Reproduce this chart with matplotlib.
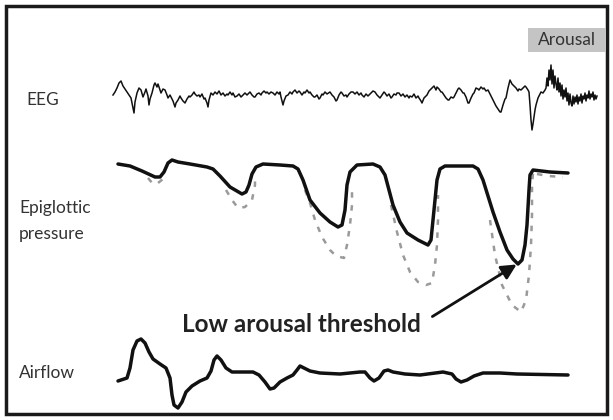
import numpy as np
import matplotlib.pyplot as plt
from matplotlib.patches import Rectangle

# traces, in pixel coordinates (x right, y down)
eeg_pts = [
    (113, 95), (115, 92), (117, 88), (119, 83), (121, 81), (123, 86), (125, 89), (127, 92),
    (129, 95), (131, 98), (133, 108), (134, 113), (135, 102), (137, 93), (139, 88), (141, 90),
    (143, 97), (145, 92), (146, 89), (148, 96), (149, 105), (150, 99), (152, 93), (154, 85),
    (155, 83), (157, 87), (158, 84), (160, 90), (161, 93), (163, 89), (165, 90), (167, 95),
    (168, 98), (170, 95), (171, 97), (173, 101), (175, 107), (176, 103), (178, 100), (180, 96),
    (181, 98), (183, 101), (185, 103), (187, 99), (189, 96), (190, 97), (192, 95), (194, 92),
    (195, 94), (197, 96), (199, 95), (200, 97), (202, 94), (204, 99), (205, 98), (207, 103),
    (208, 107), (209, 100), (211, 93), (213, 95), (215, 92), (217, 94), (219, 91), (221, 95),
    (223, 93), (225, 96), (227, 94), (228, 95), (230, 92), (232, 95), (233, 93), (235, 97),
    (237, 96), (239, 94), (241, 97), (243, 95), (245, 93), (247, 95), (250, 92), (252, 95),
    (254, 97), (255, 97), (257, 94), (259, 93), (261, 95), (262, 93), (264, 91), (266, 93),
    (267, 92), (269, 94), (271, 92), (273, 93), (275, 95), (277, 92), (279, 94), (280, 92),
    (281, 97), (283, 105), (284, 101), (286, 96), (288, 95), (290, 92), (292, 94), (293, 92),
    (295, 90), (297, 93), (299, 91), (300, 92), (302, 95), (304, 92), (305, 93), (307, 90),
    (309, 93), (310, 92), (312, 95), (314, 97), (315, 97), (317, 95), (319, 99), (320, 98),
    (322, 94), (323, 95), (325, 92), (327, 94), (330, 92), (332, 95), (334, 97), (336, 101),
    (337, 100), (339, 95), (341, 92), (342, 93), (344, 96), (346, 95), (347, 97), (349, 94),
    (351, 92), (353, 92), (355, 94), (357, 92), (359, 95), (361, 93), (362, 95), (364, 97),
    (366, 94), (368, 96), (369, 95), (371, 93), (373, 91), (375, 92), (377, 95), (379, 97),
    (380, 98), (382, 95), (384, 92), (385, 93), (387, 96), (389, 94), (391, 98), (392, 97),
    (394, 94), (396, 95), (397, 93), (399, 93), (401, 96), (403, 94), (405, 97), (407, 95),
    (409, 98), (410, 96), (412, 97), (414, 94), (416, 98), (418, 96), (419, 98), (421, 101),
    (422, 103), (424, 98), (426, 96), (427, 95), (429, 91), (431, 89), (432, 88), (434, 86),
    (436, 90), (437, 87), (439, 89), (441, 92), (442, 92), (444, 95), (446, 98), (448, 100),
    (449, 100), (451, 97), (453, 98), (454, 97), (456, 93), (458, 89), (459, 88), (461, 90),
    (463, 93), (464, 93), (466, 97), (468, 103), (469, 103), (471, 98), (473, 94), (474, 93),
    (476, 88), (478, 89), (479, 90), (481, 87), (483, 89), (484, 88), (486, 91), (488, 90),
    (489, 92), (491, 96), (493, 100), (494, 102), (496, 106), (498, 109), (500, 112), (501, 112),
    (503, 105), (505, 99), (506, 98), (508, 88), (510, 80), (512, 84), (514, 86), (516, 88),
    (518, 91), (519, 89), (521, 90), (523, 88), (525, 86), (526, 87), (528, 90), (529, 92),
    (530, 105), (531, 120), (532, 130), (533, 124), (535, 110), (536, 105), (538, 98), (540, 94),
    (541, 92), (543, 93), (545, 90),
    # arousal burst
    (546, 88), (547, 78), (548, 86), (549, 70), (550, 80), (551, 65), (552, 84), (553, 70),
    (554, 88), (555, 76), (556, 84), (557, 90), (558, 78), (559, 92), (560, 83), (561, 96),
    (562, 85), (563, 99), (564, 90), (565, 97), (566, 88), (567, 101), (568, 93), (569, 105),
    (570, 94), (571, 103), (572, 106), (573, 96), (574, 104), (575, 97), (576, 102), (577, 95),
    (578, 104), (579, 97), (580, 101), (581, 94), (582, 103), (583, 96), (584, 99), (585, 93),
    (586, 101), (587, 95), (588, 98), (589, 91), (590, 99), (591, 94), (592, 97), (593, 92),
    (594, 100), (595, 95), (596, 99), (597, 96),
]
eeg_x = [p[0] for p in eeg_pts]
eeg_y = [p[1] for p in eeg_pts]

press_x = [118, 130, 142, 155, 160, 164, 168, 172, 178, 190, 207, 213, 220, 230, 242, 246,
           249, 252, 256, 263, 280, 293, 298, 303, 310, 320, 330, 338, 342, 345, 347, 350,
           357, 373, 380, 385, 393, 400, 407, 418, 428, 431, 434, 437, 440, 445, 473, 478,
           483, 493, 500, 507, 513, 518, 522, 525, 527, 529, 530, 533, 550, 568]
press_y = [164, 166, 171, 177, 177, 172, 163, 160, 162, 164, 167, 169, 176, 187, 194, 192,
           185, 174, 167, 164, 165, 166, 169, 180, 200, 213, 222, 227, 225, 210, 185, 172,
           165, 164, 167, 175, 205, 222, 233, 240, 245, 240, 210, 180, 169, 166, 166, 169,
           180, 212, 232, 250, 259, 264, 260, 245, 225, 190, 175, 170, 172, 173]

# deeper (dashed) efforts, one segment per breath
dash_x = [148, 153, 158, 163, np.nan,
          226, 232, 238, 245, 252, 255, 255, np.nan,
          305, 310, 315, 322, 330, 336, 344, 347, 350, 352, 352, np.nan,
          391, 397, 403, 410, 418, 426, 432, 435, 437, 438, 438, np.nan,
          490, 495, 502, 512, 521, 526, 529, 531, 532, 532, 533, np.nan,
          537, 548, 563]
dash_y = [178, 184, 183, 179, np.nan,
          190, 200, 208, 207, 200, 185, 178, np.nan,
          190, 203, 220, 237, 250, 256, 258, 245, 225, 205, 185, np.nan,
          205, 232, 255, 272, 282, 285, 283, 265, 245, 220, 195, np.nan,
          220, 255, 285, 305, 312, 300, 275, 245, 215, 185, 173, np.nan,
          174, 176, 177]

air_x = [118, 127, 130, 133, 137, 141, 145, 149, 153, 160, 166, 170, 172, 174, 178, 182,
         186, 192, 200, 207, 211, 214, 217, 221, 226, 232, 253, 259, 265, 270, 274, 280,
         287, 293, 297, 300, 304, 310, 320, 340, 360, 365, 370, 374, 379, 384, 388, 393,
         405, 420, 443, 452, 456, 461, 467, 474, 483, 500, 517, 568]
air_y = [381, 378, 368, 350, 341, 339, 343, 352, 359, 364, 368, 378, 395, 405, 408, 402,
         392, 386, 381, 378, 371, 360, 356, 360, 368, 372, 372, 375, 382, 389, 388, 382,
         378, 375, 370, 366, 368, 371, 373, 374, 372, 372, 378, 381, 378, 371, 370, 372,
         374, 375, 372, 374, 379, 382, 380, 376, 373, 373, 374, 375]

plt.rcParams['font.family'] = ['Lato', 'DejaVu Sans']

fig = plt.figure(figsize=(6.13, 4.2), dpi=100)
ax = fig.add_axes([0, 0, 1, 1])
ax.set_xlim(0, 613)
ax.set_ylim(420, 0)
ax.axis('off')

ax.add_patch(Rectangle((6, 6), 601, 408, fill=False, lw=2.5, ec='#1a1a1a'))

ax.plot(eeg_x, eeg_y, color='#111111', lw=1.1, solid_joinstyle='round')
ax.plot(dash_x, dash_y, color='#9a9a9a', lw=1.8, ls=(0, (2.2, 3.0)))
ax.plot(press_x, press_y, color='#111111', lw=2.5, solid_joinstyle='round',
        solid_capstyle='round')
ax.plot(air_x, air_y, color='#111111', lw=2.5, solid_joinstyle='round',
        solid_capstyle='round')

lab = dict(fontsize=12.5, color='#333333', va='center', ha='left')
ax.text(26, 100, 'EEG', **lab)
ax.text(19, 208, 'Epiglottic', **lab)
ax.text(19, 234, 'pressure', **lab)
ax.text(19, 373, 'Airflow', **lab)

ax.add_patch(Rectangle((528, 28), 78, 24, fc='#c4c4c4', ec='none'))
ax.text(567, 40, 'Arousal', fontsize=12.5, color='#333333', ha='center', va='center')

ax.annotate('', xy=(519, 263), xytext=(430, 318),
            arrowprops=dict(arrowstyle='-|>,head_length=0.9,head_width=0.45',
                            color='#111111', lw=2))
ax.text(301, 324, 'Low arousal threshold', fontsize=17.5, fontweight='bold',
        color='#222222', ha='center', va='center')

fig.savefig('out.png', dpi=100)
